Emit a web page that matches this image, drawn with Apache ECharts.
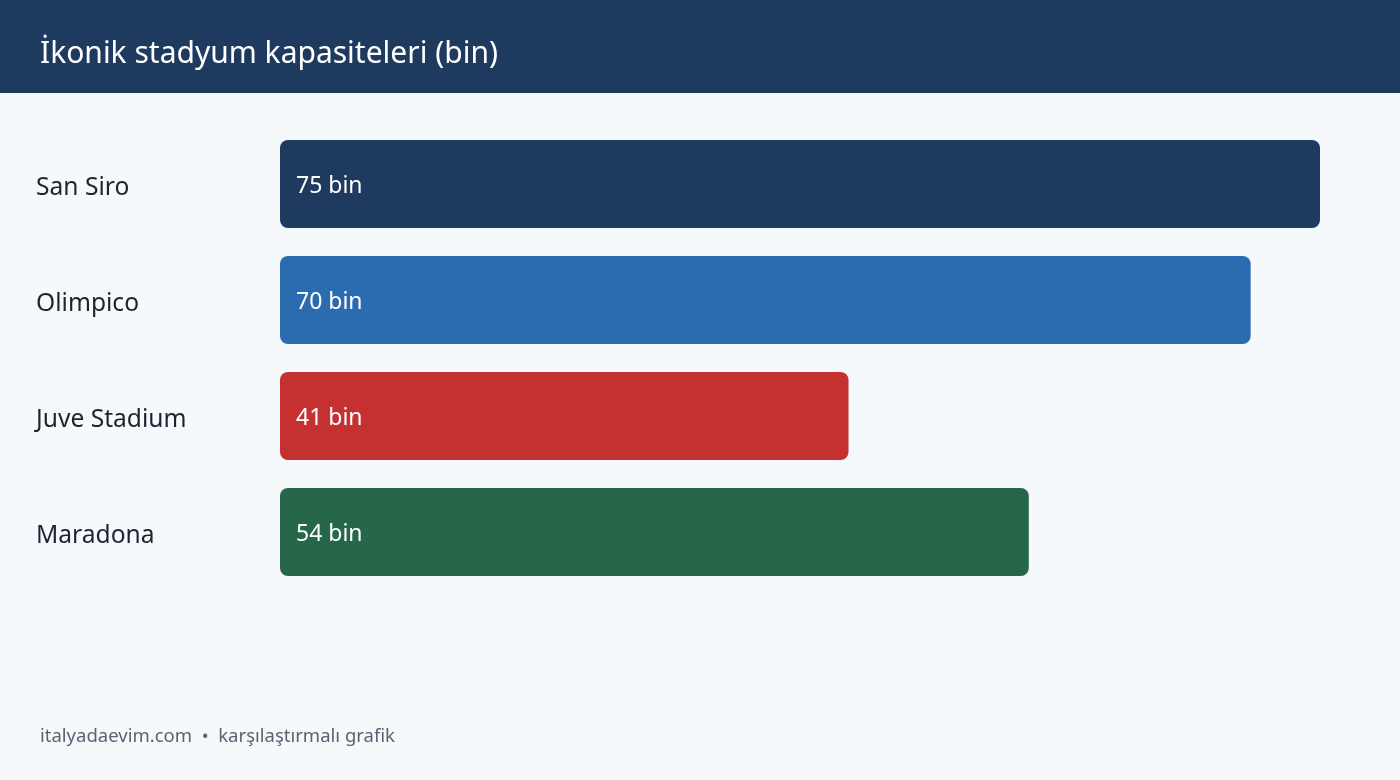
<!DOCTYPE html>
<html>
<head>
<meta charset="utf-8">
<script src="https://cdn.jsdelivr.net/npm/echarts@6/dist/echarts.min.js"></script>
<style>
  html, body { margin: 0; padding: 0; background: #F6F9FC; }
  #chart { width: 1400px; height: 780px; }
</style>
</head>
<body>
<div id="chart"></div>
<script>
// stadyum verileri
var stadiums = ['San Siro', 'Olimpico', 'Juve Stadium', 'Maradona'];
var capacities = [75, 70, 41, 54];
var barColors = ['#1F3A5F', '#2B6CB0', '#C53030', '#276749'];

var FONT = '"Noto Sans", "Open Sans", sans-serif';

var myChart = echarts.init(document.getElementById('chart'));

var option = {
  backgroundColor: '#F6F9FC',
  animation: false,
  graphic: [
    {
      type: 'rect',
      shape: { x: 0, y: 0, width: 1400, height: 93 },
      style: { fill: '#1F3A5F' },
      z: 0
    },
    {
      type: 'text',
      x: 40,
      y: 54,
      style: {
        text: 'İkonik stadyum kapasiteleri (bin)',
        fill: '#FFFFFF',
        fontSize: 30,
        fontFamily: FONT,
        verticalAlign: 'middle'
      },
      z: 1
    },
    {
      type: 'text',
      x: 40,
      y: 737,
      style: {
        text: 'italyadaevim.com  •  karşılaştırmalı grafik',
        fill: '#5A6272',
        fontSize: 18.5,
        fontFamily: FONT,
        verticalAlign: 'middle'
      }
    }
  ],
  grid: {
    left: 280,
    top: 126,
    width: 1040,
    height: 464
  },
  xAxis: {
    type: 'value',
    min: 0,
    max: 75,
    show: false
  },
  yAxis: {
    type: 'category',
    data: stadiums,
    inverse: true,
    axisLine: { show: false },
    axisTick: { show: false },
    axisLabel: {
      align: 'left',
      margin: 244,
      formatter: '{v|{value}}',
      rich: {
        v: {
          fontSize: 24.6,
          color: '#1E2330',
          fontFamily: FONT,
          padding: [7, 0, 0, 0]
        }
      }
    }
  },
  series: [
    {
      type: 'bar',
      barWidth: 88,
      data: capacities.map(function (v, i) {
        return { value: v, itemStyle: { color: barColors[i] } };
      }),
      itemStyle: { borderRadius: 8 },
      label: {
        show: true,
        position: 'insideLeft',
        distance: 16,
        offset: [0, 2],
        formatter: '{c} bin',
        color: '#FFFFFF',
        fontSize: 23,
        fontFamily: FONT
      }
    }
  ]
};

myChart.setOption(option);
</script>
</body>
</html>
